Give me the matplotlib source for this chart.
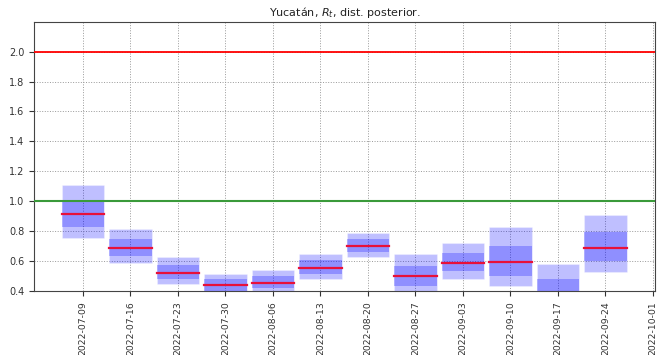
import numpy as np
import pandas as pd
import matplotlib
matplotlib.use("Agg")
import matplotlib.pyplot as plt
import matplotlib.dates as mdates

# weekly posterior summaries of R_t
weeks = ["2022-07-09", "2022-07-16", "2022-07-23", "2022-07-30", "2022-08-06",
         "2022-08-13", "2022-08-20", "2022-08-27", "2022-09-03", "2022-09-10",
         "2022-09-17", "2022-09-24"]
q_low = [0.755, 0.587, 0.445, 0.36, 0.38, 0.48, 0.631, 0.39, 0.482, 0.431, 0.25, 0.527]
q_25 = [0.83, 0.633, 0.482, 0.39, 0.42, 0.513, 0.664, 0.436, 0.533, 0.50, 0.30, 0.60]
median = [0.913, 0.687, 0.522, 0.44, 0.455, 0.555, 0.702, 0.50, 0.591, 0.593, 0.38, 0.687]
q_75 = [1.005, 0.751, 0.573, 0.48, 0.50, 0.607, 0.747, 0.571, 0.653, 0.70, 0.482, 0.793]
q_high = [1.109, 0.818, 0.625, 0.517, 0.538, 0.647, 0.791, 0.651, 0.722, 0.825, 0.578, 0.907]

tick_dates = pd.date_range("2022-07-09", "2022-10-01", freq="7D")

fig = plt.figure(figsize=(6.67, 3.55), dpi=100)
ax = fig.add_axes([0.051, 0.180, 0.931, 0.759])

width = 6.3
for i, w in enumerate(pd.to_datetime(weeks)):
    x0 = mdates.date2num(w) - width / 2
    ax.bar(x0, q_high[i] - q_low[i], width=width, bottom=q_low[i], align="edge",
           color="blue", alpha=0.25, edgecolor="white", linewidth=0.8, zorder=2)
    ax.bar(x0, q_75[i] - q_25[i], width=width, bottom=q_25[i], align="edge",
           color="blue", alpha=0.25, edgecolor="none", zorder=3)
    ax.plot([x0, x0 + width], [median[i], median[i]], color="#e8103a", lw=1.6, zorder=4)

ax.axhline(2.0, color="red", lw=1.3, zorder=5)
ax.axhline(1.0, color="#3a9a3a", lw=1.5, zorder=5)

ax.set_ylim(0.4, 2.2)
ax.set_yticks(np.arange(0.4, 2.01, 0.2))
start = mdates.date2num(pd.Timestamp("2022-07-09")) - 7.2
end = mdates.date2num(pd.Timestamp("2022-10-01")) + 0.3
ax.set_xlim(start, end)
ax.set_xticks(mdates.date2num(tick_dates))
ax.xaxis.set_major_formatter(mdates.DateFormatter("%Y-%m-%d"))
plt.setp(ax.get_xticklabels(), rotation=90)
ax.tick_params(colors="#333333")
ax.tick_params(axis="x", labelsize=6.7)
ax.tick_params(axis="y", labelsize=7)
ax.grid(True, color="#999999", linestyle=":", linewidth=0.7, zorder=0)
ax.set_axisbelow(True)
for s in ax.spines.values():
    s.set_color("#444444")
ax.set_title("Yucatán, $R_t$, dist. posterior.", fontsize=8, color="#222222", pad=4)

fig.savefig("out.png", dpi=100)
